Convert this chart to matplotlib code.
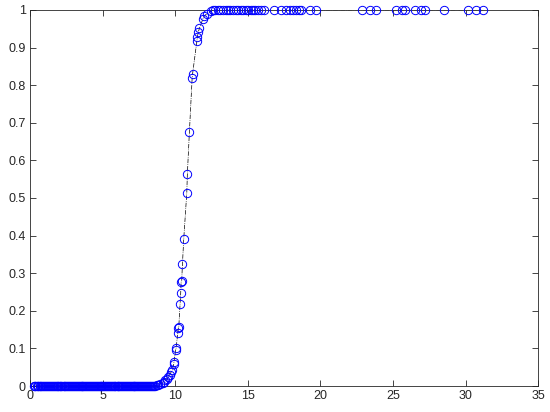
import matplotlib
matplotlib.use("Agg")
import matplotlib.pyplot as plt
import numpy as np

# sorted samples near zero probability
x_low = [0.27, 0.33, 0.38, 0.46, 0.52, 0.57, 0.66, 0.71, 0.79, 0.84, 0.92, 0.98, 1.05, 1.10, 1.19, 1.24, 1.31, 1.37, 1.45, 1.50,
         1.58, 1.63, 1.71, 1.77, 1.84, 1.91, 1.96, 2.04, 2.10, 2.17, 2.23, 2.31, 2.36, 2.44, 2.49, 2.57, 2.62, 2.70, 2.77, 2.83,
         2.90, 2.95, 3.03, 3.09, 3.16, 3.22, 3.29, 3.35, 3.42, 3.49, 3.55, 3.61, 3.68, 3.75, 3.81, 3.88, 3.94, 4.01, 4.07, 4.14,
         4.20, 4.27, 4.33, 4.40, 4.46, 4.53, 4.60, 4.66, 4.72, 4.79, 4.86, 4.92, 4.98, 5.05, 5.12, 5.18, 5.25, 5.31, 5.37, 5.44,
         5.51, 5.57, 5.63, 5.70, 5.77, 5.83, 5.89, 5.96, 6.03, 6.09, 6.16, 6.22, 6.28, 6.35, 6.42, 6.48, 6.55, 6.61, 6.67, 6.74,
         6.81, 6.87, 6.93, 7.00, 7.07, 7.13, 7.19, 7.26, 7.33, 7.39, 7.46, 7.52, 7.58, 7.65, 7.72, 7.78, 7.85, 7.91, 7.98, 8.04,
         8.11, 8.17, 8.24, 8.31, 8.38, 8.45, 8.52]
y_low = [0.0] * len(x_low)

# rising part
x_mid = [8.60, 8.72, 8.85, 8.98, 9.14, 9.25, 9.33, 9.45, 9.53, 9.62, 9.74, 9.81, 9.90, 9.92, 10.04, 10.06,
         10.18, 10.22, 10.25, 10.34, 10.38, 10.41, 10.45, 10.50, 10.59, 10.80, 10.84, 10.98, 11.17, 11.20,
         11.50, 11.53, 11.60, 11.67, 11.90, 12.00, 12.20, 12.50]
y_mid = [0.001, 0.002, 0.004, 0.006, 0.009, 0.012, 0.016, 0.020, 0.024, 0.030, 0.038, 0.043, 0.058, 0.065, 0.097, 0.100,
         0.140, 0.155, 0.158, 0.219, 0.247, 0.276, 0.280, 0.324, 0.391, 0.514, 0.564, 0.676, 0.820, 0.830,
         0.918, 0.928, 0.942, 0.951, 0.975, 0.984, 0.990, 0.997]

# saturated tail
x_high = [12.6, 12.75, 12.95, 13.1, 13.3, 13.5, 13.65, 13.8, 14.0, 14.2, 14.35, 14.5, 14.7, 14.85, 15.0, 15.2,
          15.35, 15.5, 15.7, 15.9, 16.1, 16.8, 17.3, 17.6, 17.9, 18.1, 18.3, 18.5, 18.7, 19.3, 19.7,
          22.9, 23.4, 23.8, 25.2, 25.6, 25.8, 26.5, 26.9, 27.2, 28.5, 30.2, 30.7, 31.2]
y_high = [1.0] * len(x_high)

x = np.array(x_low + x_mid + x_high)
y = np.array(y_low + y_mid + y_high)

plt.rcParams['font.family'] = ['Liberation Sans', 'DejaVu Sans']

fig = plt.figure(figsize=(5.5, 4.12), dpi=100)
ax = fig.add_axes([0.0545, 0.063, 0.924, 0.913])

ax.plot(x, y, color='k', linestyle='-.', linewidth=0.5, zorder=1)
ax.plot(x, y, linestyle='none', marker='o', markersize=6, markerfacecolor='none',
        markeredgecolor='#0000ff', markeredgewidth=0.7, zorder=3, clip_on=False)

ax.set_xlim(0, 35)
ax.set_ylim(0, 1)
ax.set_xticks(np.arange(0, 36, 5))
ax.set_yticks(np.arange(0, 1.01, 0.1))
ax.set_yticklabels(['0', '0.1', '0.2', '0.3', '0.4', '0.5', '0.6', '0.7', '0.8', '0.9', '1'])

for s in ax.spines.values():
    s.set_color('#262626')
    s.set_linewidth(0.6)
    s.set_zorder(2)
ax.tick_params(direction='in', length=4, width=0.6, top=True, right=True,
               labelsize=9, colors='#262626', pad=3)

fig.savefig('out.png', dpi=100)
